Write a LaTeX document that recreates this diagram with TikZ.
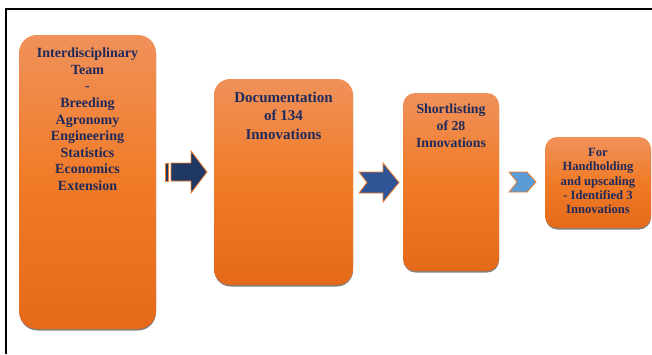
\documentclass[tikz,border=0pt]{standalone}
\usepackage{fontspec}
\setmainfont{Liberation Serif}
\usetikzlibrary{calc}
\definecolor{txtnavy}{HTML}{1F2A5C}
\definecolor{orTop}{HTML}{F0915A}
\definecolor{orMid}{HTML}{F07B27}
\definecolor{orBot}{HTML}{E46A1A}
\definecolor{arrNavy}{HTML}{1F3864}
\definecolor{arrBlue}{HTML}{2F5597}
\definecolor{arrLight}{HTML}{5B9BD5}
\definecolor{arrEdge}{HTML}{ED7D31}
\tikzset{
  stagebox/.style={rounded corners=#1, top color=orTop, bottom color=orBot,
    middle color=orMid, inner sep=0pt, draw=none},
  stagebox/.default=14pt,
  shadowbox/.style={rounded corners=#1, fill=black!50, draw=none},
  shadowbox/.default=14pt,
  stagetext/.style={text=txtnavy, font=\bfseries, align=center, inner sep=0pt, anchor=north},
  blockarrow/.style={draw=arrEdge, line width=0.8pt, line join=miter},
}
\begin{document}
\begin{tikzpicture}[x=1pt,y=-1pt]
\useasboundingbox (0,0) rectangle (652,354);
\fill[white] (0,0) rectangle (652,354);

% frame lines
\draw[line width=2.2pt] (6,354) -- (6,9) -- (652,9);

% drop shadows (offset downwards only)
\path[shadowbox=18pt] (19.5,37) rectangle (156,330.5);
\path[shadowbox=16pt] (214.5,81) rectangle (353,286.5);
\path[shadowbox=12pt] (403.5,95) rectangle (499,272.5);
\path[shadowbox=12pt] (545.5,139) rectangle (651,229.5);

% stage boxes
\node[stagebox=18pt, minimum width=137pt, minimum height=294pt] (b1) at (87.5,182) {};
\node[stagebox=16pt, minimum width=139pt, minimum height=206pt] (b2) at (283.5,182) {};
\node[stagebox=12pt, minimum width=96pt, minimum height=178pt] (b3) at (451,182) {};
\node[stagebox=12pt, minimum width=106pt, minimum height=91pt] (b4) at (598,182.5) {};

% texts
\node[stagetext, font=\bfseries\fontsize{14}{16.6}\selectfont] (t1) at ($(b1.north)+(0,13)$)
  {Interdisciplinary\\Team\\-\\Breeding\\Agronomy\\Engineering\\Statistics\\Economics\\Extension};
\node[stagetext, font=\bfseries\fontsize{15}{18.5}\selectfont] (t2) at ($(b2.north)+(0,13)$)
  {Documentation\\of 134\\Innovations};
\node[stagetext, font=\bfseries\fontsize{13.8}{17}\selectfont] (t3) at ($(b3.north)+(0,10.5)$)
  {Shortlisting\\of 28\\Innovations};
\node[stagetext, font=\bfseries\fontsize{12.6}{14.2}\selectfont] (t4) at ($(b4.north)+(0,11.5)$)
  {For\\Handholding\\and upscaling\\- Identified 3\\Innovations};

% striped block arrow
\fill[arrNavy, draw=arrEdge, line width=0.8pt] (165,163) rectangle (168,181);
\path[blockarrow, fill=arrNavy]
  (171,163) -- (191,163) -- (191,151) -- (207,172) -- (191,193) -- (191,181) -- (171,181) -- cycle;

% notched block arrow
\path[blockarrow, fill=arrBlue]
  (359,172) -- (383,172) -- (383,163) -- (399,182.5) -- (383,202) -- (383,193) -- (359,193) -- (367,182.5) -- cycle;

% chevron
\path[blockarrow, fill=arrLight]
  (509,172) -- (527,172) -- (536,182) -- (527,192) -- (509,192) -- (517,182) -- cycle;
\end{tikzpicture}
\end{document}
